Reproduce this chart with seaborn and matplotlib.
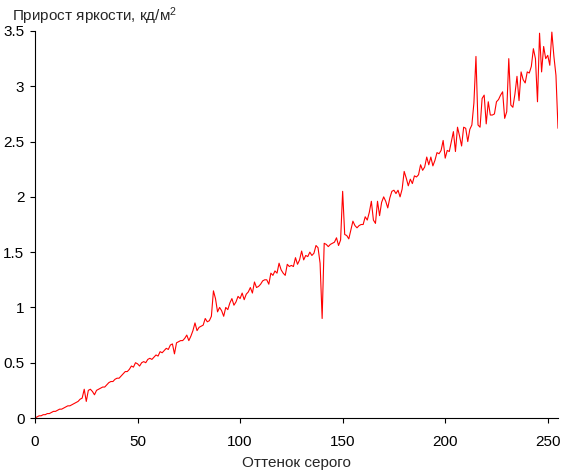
import numpy as np
import pandas as pd
import matplotlib
matplotlib.use('Agg')
import matplotlib.pyplot as plt
import seaborn as sns
from matplotlib.ticker import FuncFormatter

# прирост яркости для каждого оттенка серого 0..255
brightness_gain = [
    0.00, 0.01, 0.02, 0.02, 0.03, 0.03, 0.04, 0.04, 0.05, 0.06,
    0.06, 0.07, 0.08, 0.08, 0.09, 0.10, 0.11, 0.11, 0.12, 0.13,
    0.14, 0.15, 0.17, 0.18, 0.26, 0.15, 0.25, 0.26, 0.24, 0.21,
    0.25, 0.26, 0.27, 0.28, 0.28, 0.30, 0.32, 0.33, 0.33, 0.35,
    0.36, 0.36, 0.38, 0.40, 0.42, 0.42, 0.44, 0.47, 0.46, 0.50,
    0.49, 0.47, 0.50, 0.51, 0.50, 0.53, 0.54, 0.53, 0.55, 0.57,
    0.56, 0.60, 0.59, 0.61, 0.63, 0.62, 0.66, 0.67, 0.58, 0.68,
    0.69, 0.70, 0.70, 0.72, 0.75, 0.70, 0.74, 0.79, 0.86, 0.79,
    0.82, 0.83, 0.84, 0.90, 0.87, 0.88, 0.92, 1.15, 1.08, 0.96,
    1.00, 0.97, 0.92, 1.00, 0.98, 1.04, 1.08, 1.02, 1.05, 1.10,
    1.08, 1.13, 1.07, 1.12, 1.14, 1.18, 1.13, 1.23, 1.18, 1.19,
    1.21, 1.24, 1.25, 1.25, 1.21, 1.31, 1.29, 1.33, 1.31, 1.40,
    1.34, 1.31, 1.29, 1.39, 1.37, 1.38, 1.37, 1.45, 1.39, 1.43,
    1.51, 1.43, 1.47, 1.46, 1.50, 1.47, 1.49, 1.56, 1.54, 1.40,
    0.90, 1.58, 1.57, 1.55, 1.57, 1.58, 1.59, 1.63, 1.56, 1.61,
    2.05, 1.66, 1.65, 1.62, 1.70, 1.78, 1.74, 1.72, 1.74, 1.75,
    1.75, 1.82, 1.79, 1.86, 1.96, 1.79, 1.76, 1.96, 1.83, 1.95,
    2.00, 1.96, 1.90, 1.99, 2.05, 2.06, 2.03, 2.06, 2.00, 2.07,
    2.23, 2.17, 2.10, 2.16, 2.12, 2.19, 2.18, 2.20, 2.29, 2.24,
    2.27, 2.36, 2.29, 2.36, 2.28, 2.33, 2.40, 2.39, 2.42, 2.51,
    2.35, 2.42, 2.41, 2.50, 2.59, 2.41, 2.63, 2.55, 2.46, 2.63,
    2.62, 2.50, 2.61, 2.65, 2.85, 3.27, 2.65, 2.63, 2.89, 2.92,
    2.66, 2.86, 2.74, 2.74, 2.75, 2.86, 2.88, 2.92, 2.95, 2.71,
    2.77, 3.25, 2.83, 2.81, 2.93, 3.09, 2.87, 3.13, 3.06, 3.03,
    3.13, 3.12, 3.18, 3.34, 3.25, 2.86, 3.48, 3.13, 3.36, 3.25,
    3.28, 3.19, 3.49, 3.27, 3.10, 2.62,
]
gray_level = list(range(len(brightness_gain)))

x_ticks = [0, 50, 100, 150, 200, 250]
y_ticks = [0, 0.5, 1, 1.5, 2, 2.5, 3, 3.5]

sns.set_style('ticks')
plt.rcParams['font.family'] = ['Liberation Sans', 'DejaVu Sans']
plt.rcParams['mathtext.default'] = 'regular'

fig = plt.figure(figsize=(5.61, 4.71), dpi=100)
ax = fig.add_axes([35 / 561, 53 / 471, 523 / 561, 387 / 471])

df = pd.DataFrame({'gray': gray_level, 'gain': brightness_gain})
sns.lineplot(data=df, x='gray', y='gain', color='#ff0000', linewidth=0.8, ax=ax)

ax.set_xlim(0, 255)
ax.set_ylim(0, 3.5)
ax.set_xticks(x_ticks)
ax.set_yticks(y_ticks)
ax.yaxis.set_major_formatter(FuncFormatter(lambda v, p: f'{v:g}'))
ax.tick_params(axis='both', direction='out', length=3.6, width=0.8,
               labelsize=11, colors='black')
ax.tick_params(axis='x', pad=9)
ax.tick_params(axis='y', pad=4)
for side in ['left', 'bottom']:
    ax.spines[side].set_linewidth(0.8)
    ax.spines[side].set_color('black')
sns.despine(ax=ax)

ax.set_xlabel('Оттенок серого', fontsize=11, labelpad=5)
ax.set_ylabel('')
fig.text(12 / 561, 1 - 5 / 471, 'Прирост яркости, кд/м$^2$', fontsize=11,
         ha='left', va='top')

fig.savefig('out.png', dpi=100)
